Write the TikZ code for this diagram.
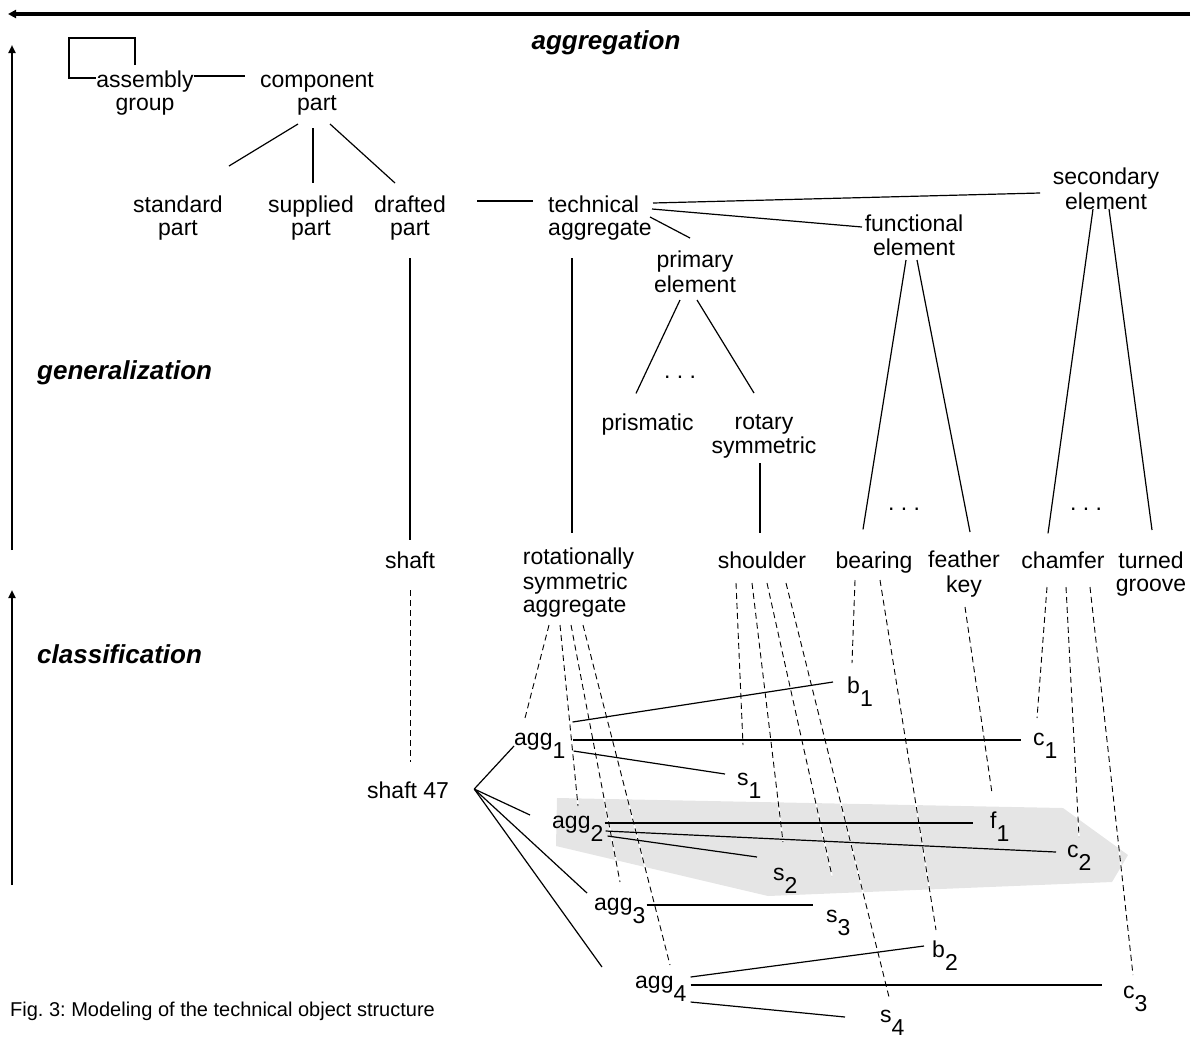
\documentclass[tikz,border=0pt]{standalone}
\usepackage{fontspec}
\setmainfont{Liberation Sans}
\usetikzlibrary{calc,arrows.meta}
\newcommand\sbx[1]{\raisebox{-13pt}{#1}}
\frenchspacing
\begin{document}
\begin{tikzpicture}[x=1pt,y=-1pt,
  txt/.style={inner sep=0pt, font=\fontsize{23}{23}\selectfont, align=center},
  tight/.style={font=\fontsize{23}{20}\selectfont},
  inst/.style={inner sep=0pt, font=\fontsize{23}{23}\selectfont, anchor=base west},
  lbl/.style={inner sep=0pt, font=\fontsize{26}{26}\selectfont\bfseries\itshape},
  link/.style={line width=1.2pt},
  inof/.style={line width=0.9pt, dash pattern=on 6pt off 4pt,
     preaction={draw=white, solid, line width=1.6pt}},
  axis/.style={line width=2.4pt, -{Triangle[length=8pt,width=7pt]}},
  topaxis/.style={line width=3.2pt, -{Triangle[length=8pt,width=8pt]}}
]
\useasboundingbox (0,0) rectangle (1198,1037);

% highlighted group
\fill[gray!20] (557,798) -- (1063,808) -- (1128,855) -- (1112,882) -- (768,896) -- (556,846) -- cycle;

% axes
\coordinate (axT1) at (1190,14); \coordinate (axT2) at (8,14);
\coordinate (axG1) at (12,550);  \coordinate (axG2) at (12,45);
\coordinate (axC1) at (12,885);  \coordinate (axC2) at (12,590);
\draw[topaxis] (axT1) -- (axT2);
\draw[axis] (axG1) -- (axG2);
\draw[axis] (axC1) -- (axC2);

\node[lbl, anchor=base] (lagg) at (606,49) {aggregation};
\node[lbl, anchor=base west] (lgen) at (37,379) {generalization};
\node[lbl, anchor=base west] (lcla) at (37,663) {classification};
\node[inner sep=0pt, anchor=base west, font=\fontsize{20}{20}\selectfont] (cap) at (10,1016) {Fig. 3: Modeling of the technical object structure};

% upper nodes
\node[txt] (ag) at (145,94) {\strut assembly\\\strut group};
\node[txt] (cp) at (317,94) {\strut component\\\strut part};
\node[txt] (sp) at (178,219) {\strut standard\\\strut part};
\node[txt] (su) at (311,219) {\strut supplied\\\strut part};
\node[txt] (dp) at (410,219) {\strut drafted\\\strut part};
\node[txt, align=left] (ta) at (600,219) {\strut technical\\\strut aggregate};
\node[txt] (se) at (1106,192) {\strut secondary\\\strut element};
\node[txt, tight] (fe) at (914,238) {\strut functional\\\strut element};
\node[txt] (pe) at (695,275) {\strut primary\\\strut element};
\node[txt] (pr) at (647.5,425.4) {\strut prismatic};
\node[txt] (rs) at (764,437) {\strut rotary\\\strut symmetric};
\node[txt, anchor=base] (d1) at (680,378) {.\ .\ .};
\node[txt, anchor=base] (d2) at (904,510) {.\ .\ .};
\node[txt, anchor=base] (d3) at (1086,510) {.\ .\ .};

\node[txt] (sh) at (410,563.4) {\strut shaft};
\node[txt, align=left] (rsa) at (578.5,583.4) {\strut rotationally\\\strut symmetric\\\strut aggregate};
\node[txt] (so) at (762,563.4) {\strut shoulder};
\node[txt] (be) at (874,563.4) {\strut bearing};
\node[txt] (fk) at (964,575) {\strut feather\\\strut key};
\node[txt] (ch) at (1063,563.4) {\strut chamfer};
\node[txt] (tg) at (1151,575) {\strut turned\\\strut groove};

% instance nodes
\node[inst] (s47) at (367,798) {shaft 47};
\node[inst] (agg1) at (514,745) {agg\sbx{1}};
\node[inst] (agg2) at (552,828) {agg\sbx{2}};
\node[inst] (agg3) at (594,910) {agg\sbx{3}};
\node[inst] (agg4) at (635,988) {agg\sbx{4}};
\node[inst] (b1) at (847,693) {b\sbx{1}};
\node[inst] (c1) at (1033,745) {c\sbx{1}};
\node[inst] (s1) at (737,785) {s\sbx{1}};
\node[inst] (f1) at (990,828) {f\sbx{1}};
\node[inst] (c2) at (1067,857) {c\sbx{2}};
\node[inst] (s2) at (773,880) {s\sbx{2}};
\node[inst] (s3) at (826,922) {s\sbx{3}};
\node[inst] (b2) at (932,957) {b\sbx{2}};
\node[inst] (c3) at (1123,998) {c\sbx{3}};
\node[inst] (s4) at (880,1022) {s\sbx{4}};

% classification (instance-of) links
\draw[inof] ($(sh)+(0,27)$) -- ($(s47.base west)+(43,-36)$);
\draw[inof] ($(rsa)+(-29.5,41.6)$) -- ($(agg1.base west)+(11,-27)$);
\draw[inof] ($(rsa)+(-18.5,41.6)$) -- ($(agg2.base west)+(26,-22)$);
\draw[inof] ($(rsa)+(-7.5,41.6)$) -- ($(agg3.base west)+(26,-28)$);
\draw[inof] ($(rsa)+(4.5,41.6)$) -- ($(agg4.base west)+(35,-23)$);
\draw[inof] ($(so)+(-26,19.6)$) -- ($(s1.base west)+(6,-40)$);
\draw[inof] ($(so)+(-10,19.6)$) -- ($(s2.base west)+(10,-38)$);
\draw[inof] ($(so)+(5,19.6)$) -- ($(s3.base west)+(6,-46)$);
\draw[inof] ($(so)+(24,19.6)$) -- ($(s4.base west)+(9,-25)$);
\draw[inof] ($(be)+(-19,16.6)$) -- ($(b1.base west)+(5,-30)$);
\draw[inof] ($(be)+(6,16.6)$) -- ($(b2.base west)+(4,-27)$);
\draw[inof] ($(fk)+(1,32)$) -- ($(f1.base west)+(2,-35)$);
\draw[inof] ($(ch)+(-16,23.6)$) -- ($(c1.base west)+(4,-27)$);
\draw[inof] ($(ch)+(3,23.6)$) -- ($(c2.base west)+(12,-20)$);
\draw[inof] ($(ch)+(27,23.6)$) -- ($(c3.base west)+(10,-23)$);

% upper links
\draw[link] ($(ag)+(-10,-29)$) |- ($(ag)+(-76,-56)$) |- ($(ag)+(-49,-16)$);
\draw[link] ($(ag)+(49,-18)$) -- ($(cp)+(-72,-18)$);
\draw[link] ($(cp)+(-19,30)$) -- ($(sp)+(51,-53)$);
\draw[link] ($(cp)+(-4,34)$) -- ($(su)+(2,-36)$);
\draw[link] ($(cp)+(13,30)$) -- ($(dp)+(-15,-36)$);
\draw[link] ($(dp)+(67,-18)$) -- ($(ta)+(-67,-18)$);
\draw[link] ($(ta)+(53,-16)$) -- ($(se)+(-66,1)$);
\draw[link] ($(ta)+(52,-10)$) -- ($(fe)+(-52,-11)$);
\draw[link] ($(ta)+(50,-2)$) -- ($(pe)+(-5,-37)$);
\draw[link] ($(pe)+(-15,25)$) -- ($(pr)+(-11.5,-32)$);
\draw[link] ($(pe)+(2,25)$) -- ($(rs)+(-10,-44)$);
\draw[link] ($(rs)+(-4,26)$) -- ($(so)+(-2,-30)$);
\draw[link] ($(dp)+(0,39)$) -- ($(sh)+(0,-23)$);
\draw[link] ($(ta)+(-28,39)$) -- ($(rsa)+(-6.5,-50.4)$);
\draw[link] ($(fe)+(-8,22)$) -- ($(be)+(-11,-34)$);
\draw[link] ($(fe)+(3,22)$) -- ($(fk)+(6,-43)$);
\draw[link] ($(se)+(-13,17)$) -- ($(ch)+(-15,-30)$);
\draw[link] ($(se)+(3,17)$) -- ($(tg)+(1,-45)$);

% lower links
\draw[link] ($(s47.base east)+(25,-9)$) -- ($(agg1.base west)+(0,1)$);
\draw[link] ($(s47.base east)+(25,-9)$) -- ($(agg2.base west)+(-22,-13)$);
\draw[link] ($(s47.base east)+(25,-9)$) -- ($(agg3.base west)+(-7,-17)$);
\draw[link] ($(s47.base east)+(25,-9)$) -- ($(agg4.base west)+(-33,-21)$);
\draw[link] ($(agg1.base east)+(7,-23)$) -- ($(b1.base west)+(-14,-11)$);
\draw[link] ($(agg1.base east)+(7,-5)$) -- ($(c1.base west)+(-12,-5)$);
\draw[link] ($(agg1.base east)+(8,6)$) -- ($(s1.base west)+(-12,-11)$);
\draw[link] ($(agg2.base east)+(1,-5)$) -- ($(f1.base west)+(-17,-5)$);
\draw[link] ($(agg2.base east)+(2,3)$) -- ($(c2.base west)+(-11,-5)$);
\draw[link] ($(agg2.base east)+(4,8)$) -- ($(s2.base west)+(-16,-23)$);
\draw[link] ($(agg3.base east)+(1,-5)$) -- ($(s3.base west)+(-13,-17)$);
\draw[link] ($(agg4.base east)+(4,-11)$) -- ($(b2.base west)+(-8,-11)$);
\draw[link] ($(agg4.base east)+(4,-3)$) -- ($(c3.base west)+(-21,-13)$);
\draw[link] ($(agg4.base east)+(4,14)$) -- ($(s4.base west)+(-35,-5)$);
\end{tikzpicture}
\end{document}
